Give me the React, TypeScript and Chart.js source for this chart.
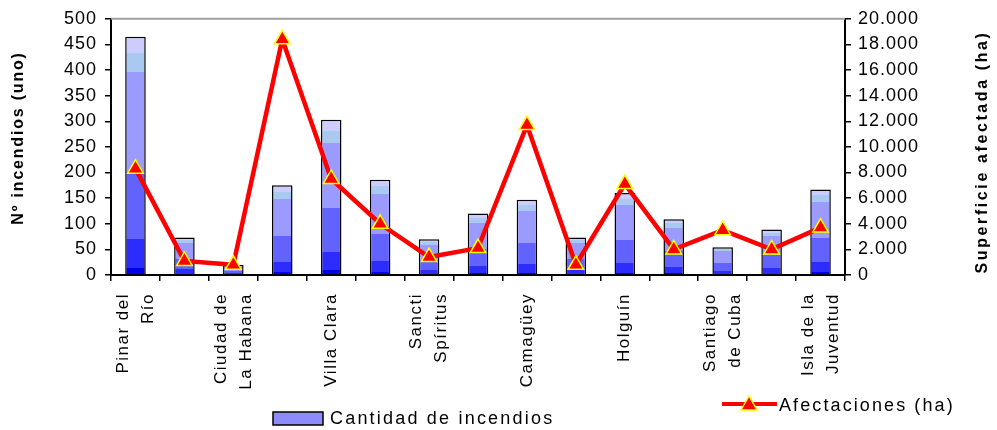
import React, { useEffect, useRef } from "react";
import { Chart, registerables } from "chart.js";

Chart.register(...registerables);

const categories = [
  "Pinar del Río", "La Habana", "Ciudad de La Habana", "Matanzas", "Villa Clara",
  "Cienfuegos", "Sancti Spíritus", "Ciego de Ávila", "Camagüey", "Las Tunas",
  "Holguín", "Granma", "Santiago de Cuba", "Guantánamo", "Isla de la Juventud",
];
// shown labels (every other category), split in lines
const shownLabels: (string[] | null)[] = [
  ["Pinar del", "Río"], null, ["Ciudad de", "La Habana"], null, ["Villa Clara"],
  null, ["Sancti", "Spíritus"], null, ["Camagüey"], null,
  ["Holguín"], null, ["Santiago", "de Cuba"], null, ["Isla de la", "Juventud"],
];
const incendios = [465, 73, 20, 175, 303, 186, 70, 120, 147, 73, 160, 109, 54, 89, 167];
const afectaciones = [8300, 1100, 800, 18400, 7500, 4000, 1400, 2100, 11700, 800, 7100, 2000, 3500, 2000, 3700];

const barLabel = "Cantidad de incendios";
const lineLabel = "Afectaciones (ha)";
const leftTitle = "Nº incendios (uno)";
const rightTitle = "Superficie afectada (ha)";

const FONT = "'Liberation Sans', Arial, sans-serif";

const fmt = (v: number) => String(v).replace(/\B(?=(\d{3})+(?!\d))/g, ".");

function barGradient(c: CanvasRenderingContext2D, y0: number, y1: number) {
  const g = c.createLinearGradient(0, y0, 0, y1);
  const bands: [number, number, string][] = [
    [0, 0.03, "#0000e8"],
    [0.03, 0.15, "#2c2cff"],
    [0.15, 0.43, "#6262ff"],
    [0.43, 0.85, "#9a9aff"],
    [0.85, 0.93, "#a9c9f0"],
    [0.93, 1, "#ccccff"],
  ];
  for (const [a, b, col] of bands) {
    g.addColorStop(a, col);
    g.addColorStop(Math.min(1, b), col);
  }
  return g;
}

const customDraw = {
  id: "customDraw",
  beforeDraw(chart: any) {
    (chart.ctx as any).letterSpacing = "1px";
  },
  afterDraw(chart: any) {
    const { ctx, chartArea, scales } = chart;
    ctx.save();
    // top grey line
    ctx.strokeStyle = "#a0a0a0";
    ctx.lineWidth = 2;
    ctx.beginPath();
    ctx.moveTo(chartArea.left, chartArea.top);
    ctx.lineTo(chartArea.right, chartArea.top);
    ctx.stroke();

    // x labels
    ctx.fillStyle = "#000";
    ctx.font = `17px ${FONT}`;
    ctx.letterSpacing = "1.5px";
    ctx.textAlign = "right";
    ctx.textBaseline = "middle";
    const lh = 25;
    shownLabels.forEach((lines, i) => {
      if (!lines) return;
      const x = scales.x.getPixelForValue(i);
      const n = lines.length;
      lines.forEach((ln, j) => {
        const cx = x + (j - (n - 1) / 2) * lh;
        ctx.save();
        ctx.translate(cx, chartArea.bottom + 18);
        ctx.rotate(-Math.PI / 2);
        ctx.fillText(ln, 0, 0);
        ctx.restore();
      });
    });

    // axis titles
    ctx.font = `bold 16px ${FONT}`;
    ctx.textAlign = "center";
    ctx.save();
    ctx.letterSpacing = "1.8px";
    ctx.translate(19, 138);
    ctx.rotate(-Math.PI / 2);
    ctx.fillText(leftTitle, 0, 0);
    ctx.restore();
    ctx.save();
    ctx.letterSpacing = "2.6px";
    ctx.translate(983, 152);
    ctx.rotate(-Math.PI / 2);
    ctx.fillText(rightTitle, 0, 0);
    ctx.restore();

    // legend: bars
    ctx.fillStyle = "#8c8cff";
    ctx.fillRect(273, 412, 50, 13);
    ctx.strokeStyle = "#000";
    ctx.lineWidth = 1.5;
    ctx.strokeRect(273, 412, 50, 13);
    ctx.fillStyle = "#000";
    ctx.font = `18px ${FONT}`;
    ctx.letterSpacing = "2.2px";
    ctx.textAlign = "left";
    ctx.fillText(barLabel, 330, 419);

    // legend: line
    ctx.strokeStyle = "#ff0000";
    ctx.lineWidth = 4;
    ctx.beginPath();
    ctx.moveTo(722, 404);
    ctx.lineTo(777, 404);
    ctx.stroke();
    ctx.fillStyle = "#ff0000";
    ctx.strokeStyle = "#ffff00";
    ctx.lineWidth = 1.5;
    ctx.beginPath();
    ctx.moveTo(749, 396);
    ctx.lineTo(757, 410);
    ctx.lineTo(741, 410);
    ctx.closePath();
    ctx.fill();
    ctx.stroke();
    ctx.fillStyle = "#000";
    ctx.letterSpacing = "2.1px";
    ctx.fillText(lineLabel, 779, 406);
    ctx.restore();
  },
};

export default function App() {
  const ref = useRef<HTMLCanvasElement>(null);
  useEffect(() => {
    if (!ref.current) return;
    const chart = new Chart(ref.current, {
      type: "bar",
      data: {
        labels: categories,
        datasets: [
          {
            type: "line",
            label: lineLabel,
            data: afectaciones,
            yAxisID: "y2",
            borderColor: "#ff0000",
            borderWidth: 4.5,
            pointStyle: "triangle",
            pointRadius: 9,
            pointBackgroundColor: "#ff0000",
            pointBorderColor: "#ffff00",
            pointBorderWidth: 1.5,
            tension: 0,
            order: 0,
          } as any,
          {
            type: "bar",
            label: barLabel,
            data: incendios,
            yAxisID: "y",
            backgroundColor: (c: any) => {
              const ch = c.chart;
              if (!ch.chartArea || c.type !== "data") return "#8c8cff";
              const y0 = ch.scales.y.getPixelForValue(0);
              const y1 = ch.scales.y.getPixelForValue(c.raw);
              if (!isFinite(y0) || !isFinite(y1) || y0 === y1) return "#8c8cff";
              return barGradient(ch.ctx, y0, y1);
            },
            borderColor: "#000",
            borderWidth: 1.5,
            categoryPercentage: 1,
            barPercentage: 0.42,
            order: 1,
          },
        ],
      },
      options: {
        responsive: false,
        animation: false,
        layout: { padding: { top: 18, left: 0, right: 0, bottom: 0 } },
        plugins: { legend: { display: false }, tooltip: { enabled: false } },
        scales: {
          x: {
            offset: true,
            grid: { display: true, drawOnChartArea: false, drawTicks: true, tickLength: 6, color: "#000", lineWidth: 1.5, offset: true },
            border: { display: true, color: "#000", width: 2 },
            ticks: { display: false },
            afterFit: (s: any) => { s.height = 155; },
          },
          y: {
            position: "left",
            min: 0,
            max: 500,
            ticks: { stepSize: 50, color: "#000", font: { family: FONT, size: 18 }, padding: 8 },
            grid: { drawOnChartArea: false, drawTicks: true, tickLength: 6, color: "#000", lineWidth: 1.5 },
            border: { display: true, color: "#000", width: 2 },
            afterFit: (s: any) => { s.width = 111; },
          },
          y2: {
            position: "right",
            min: 0,
            max: 20000,
            ticks: { stepSize: 2000, color: "#000", font: { family: FONT, size: 18 }, padding: 7, callback: (v: any) => fmt(Number(v)) },
            grid: { drawOnChartArea: false, drawTicks: true, tickLength: 6, color: "#000", lineWidth: 1.5 },
            border: { display: true, color: "#000", width: 2 },
            afterFit: (s: any) => { s.width = 152; },
          },
        },
      },
      plugins: [customDraw],
    });
    return () => chart.destroy();
  }, []);
  return (
    <div style={{ position: "fixed", left: 0, top: 0, width: 997, height: 430, background: "#fff" }}>
      <canvas ref={ref} width={997} height={430} style={{ width: 997, height: 430 }} />
    </div>
  );
}
